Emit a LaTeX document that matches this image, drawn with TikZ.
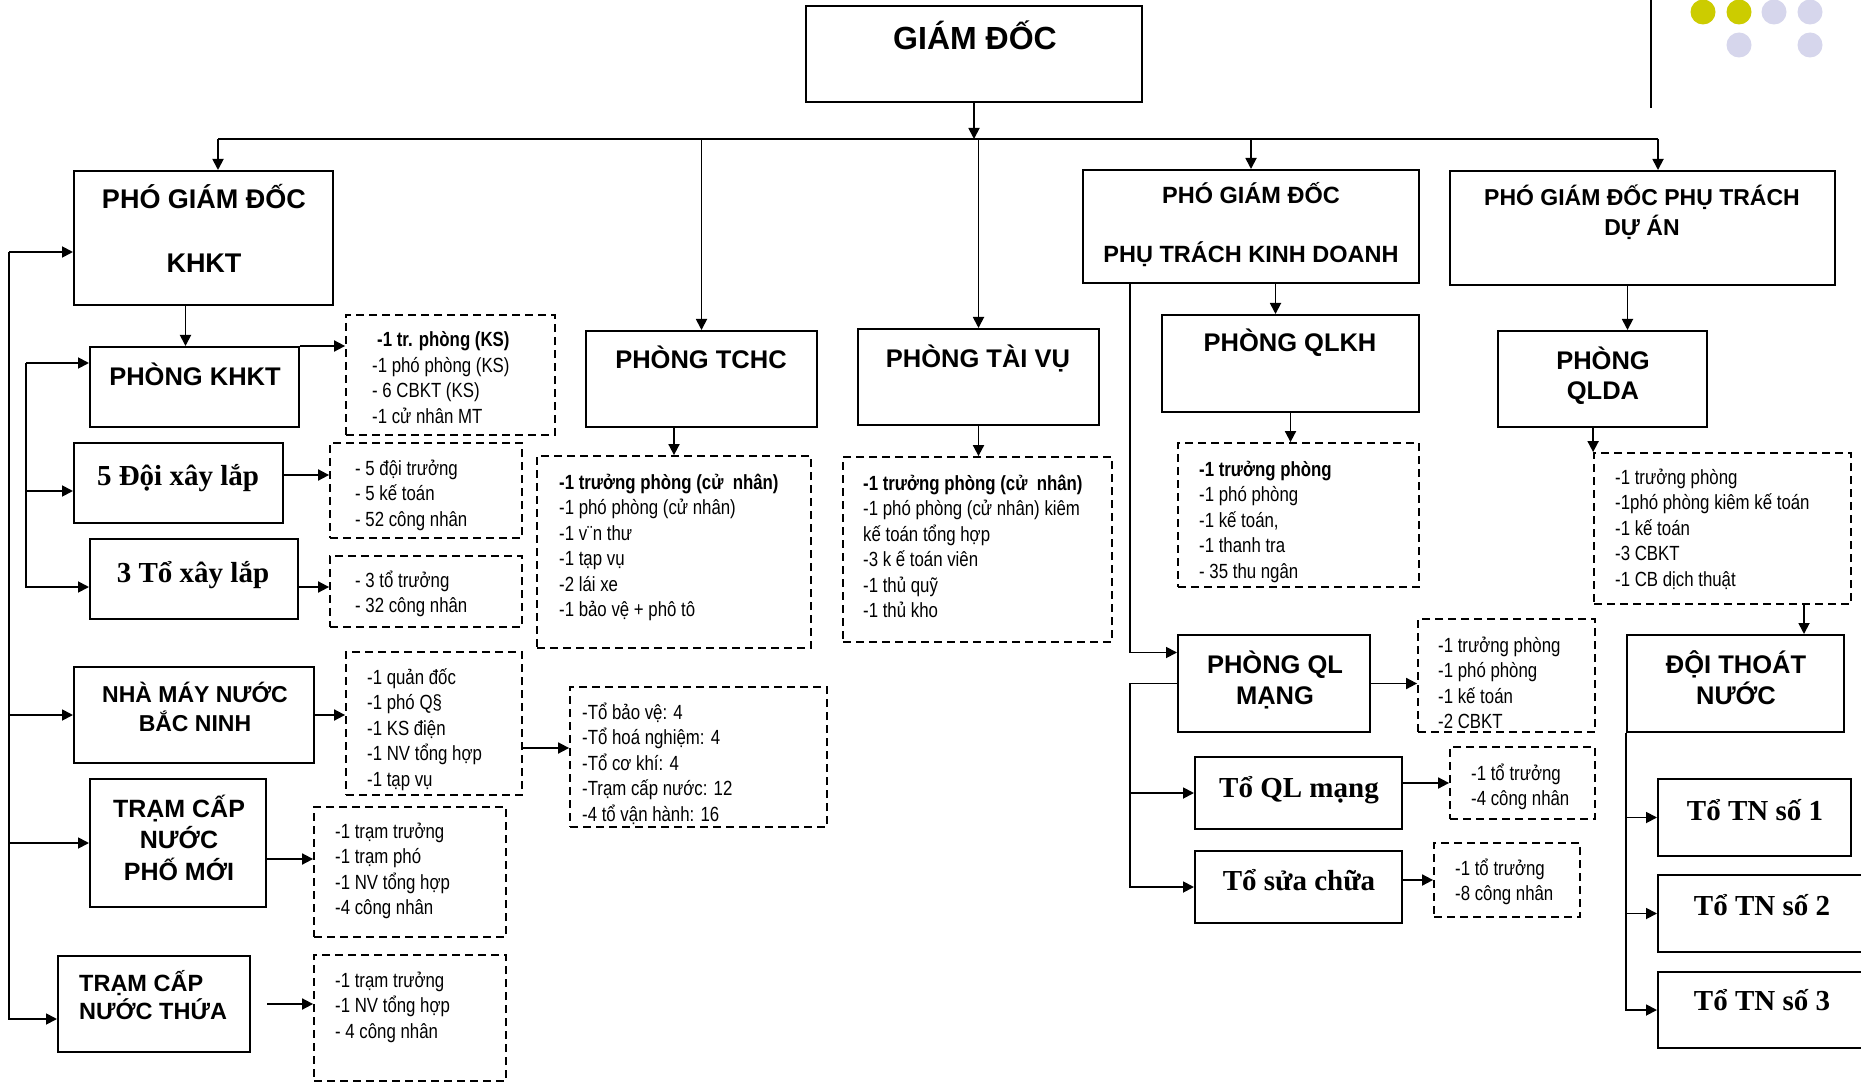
\documentclass[tikz,border=0pt]{standalone}
\usepackage{fontspec}
\setmainfont{Liberation Sans}
\newfontfamily\narrowfont{Liberation Sans}[FakeStretch=0.82]
\newfontfamily\timesfont{Liberation Serif}
\usetikzlibrary{arrows.meta,fit}

\definecolor{dotyellow}{RGB}{204,204,0}
\definecolor{dotblue}{RGB}{214,214,236}

\newcommand\rowsc[1]{\begin{tabular}[t]{@{}c@{}}#1\end{tabular}}
\newcommand\rowsl[1]{\begin{tabular}[t]{@{}l@{}}#1\end{tabular}}

\tikzset{
  box/.style={draw, line width=2pt, inner sep=0pt},
  dbox/.style={draw, line width=1.8pt, dash pattern=on 8pt off 5pt, inner sep=0pt},
  head/.style={inner sep=0pt, anchor=base, font=\fontsize{25.5}{31}\selectfont\bfseries},
  serif/.style={inner sep=0pt, anchor=base, font=\fontsize{29}{34}\selectfont\timesfont\bfseries},
  list/.style={inner sep=0pt, anchor=base west, font=\fontsize{20.5}{25.5}\selectfont\narrowfont},
  link/.style={line width=1.8pt},
  arr/.style={line width=1.8pt, -{Triangle[length=11pt,width=11pt]}}
}

\begin{document}
\begin{tikzpicture}[x=1pt, y=-1pt]
  \path[use as bounding box, fill=white] (0,0) rectangle (1861,1083);

  % corner decoration
  \draw[link] (1651,0) -- (1651,108);
  \fill[dotyellow] (1703,12) circle[radius=12.5pt];
  \fill[dotyellow] (1739,12) circle[radius=12.5pt];
  \fill[dotblue] (1774,12) circle[radius=12.5pt];
  \fill[dotblue] (1810,12) circle[radius=12.5pt];
  \fill[dotblue] (1739,45) circle[radius=12.5pt];
  \fill[dotblue] (1810,45) circle[radius=12.5pt];

  % solid boxes
  \node[box, fit={(806,6) (1142,102)}] (gd) {};
  \node[box, fit={(74,171) (333,305)}] (kt) {};
  \node[box, fit={(90,347) (299,427)}] (pkt) {};
  \node[box, fit={(74,443) (283,523)}] (d5) {};
  \node[box, fit={(90,539) (298,619)}] (t3) {};
  \node[box, fit={(74,667) (314,763)}] (nm) {};
  \node[box, fit={(90,779) (266,907)}] (pm) {};
  \node[box, fit={(58,956) (250,1052)}] (thua) {};
  \node[box, fit={(586,331) (817,427)}] (tchc) {};
  \node[box, fit={(858,329) (1099,425)}] (tv) {};
  \node[box, fit={(1083,170) (1419,283)}] (kd) {};
  \node[box, fit={(1162,315) (1419,412)}] (qlkh) {};
  \node[box, fit={(1450,171) (1835,285)}] (da) {};
  \node[box, fit={(1498,331) (1707,427)}] (qlda) {};
  \node[box, fit={(1178,635) (1370,732)}] (qlm) {};
  \node[box, fit={(1195,757) (1402,829)}] (tql) {};
  \node[box, fit={(1195,851) (1402,923)}] (sc) {};
  \node[box, fit={(1627,635) (1844,732)}] (doi) {};
  \node[box, fit={(1658,779) (1851,856)}] (tn1) {};
  \node[box, fit={(1658,875) (1875,952)}] (tn2) {};
  \node[box, fit={(1658,972) (1875,1048)}] (tn3) {};

  % dashed boxes
  \node[dbox, fit={(346,315) (555,435)}] (dkt) {};
  \node[dbox, fit={(330,443) (522,538)}] (dd5) {};
  \node[dbox, fit={(330,556) (522,627)}] (dt3) {};
  \node[dbox, fit={(346,652) (522,795)}] (dnm) {};
  \node[dbox, fit={(570,687) (827,827)}] (dto) {};
  \node[dbox, fit={(314,807) (506,937)}] (dpm) {};
  \node[dbox, fit={(314,955) (506,1081)}] (dth) {};
  \node[dbox, fit={(537,456) (811,648)}] (dtchc) {};
  \node[dbox, fit={(843,457) (1112,642)}] (dtv) {};
  \node[dbox, fit={(1178,443) (1419,587)}] (dqlkh) {};
  \node[dbox, fit={(1594,453) (1851,604)}] (dqlda) {};
  \node[dbox, fit={(1418,619) (1595,732)}] (dqlm) {};
  \node[dbox, fit={(1450,747) (1595,819)}] (dtql) {};
  \node[dbox, fit={(1434,843) (1580,917)}] (dsc) {};

  % titles
  \node[head, font=\fontsize{32}{38}\selectfont\bfseries] (gd-t) at (975,50) {GIÁM ĐỐC};
  \node[head, font=\fontsize{27}{33}\selectfont\bfseries] (kt-t) at (204,209) {\rowsc{PHÓ GIÁM ĐỐC\\[31pt]KHKT}};
  \node[head] (pkt-t) at (195,385) {PHÒNG KHKT};
  \node[head] (tchc-t) at (701,368) {PHÒNG TCHC};
  \node[head] (tv-t) at (978,367) {PHÒNG TÀI VỤ};
  \node[head, font=\fontsize{23.5}{28}\selectfont\bfseries] (kd-t) at (1251,204) {\rowsc{PHÓ GIÁM ĐỐC\\[29pt]PHỤ TRÁCH KINH DOANH}};
  \node[head] (qlkh-t) at (1290,352) {PHÒNG QLKH};
  \node[head, font=\fontsize{23}{29}\selectfont\bfseries] (da-t) at (1642,206) {\rowsc{PHÓ GIÁM ĐỐC PHỤ TRÁCH\\DỰ ÁN}};
  \node[head] (qlda-t) at (1603,369) {\rowsc{PHÒNG\\QLDA}};
  \node[head] (qlm-t) at (1275,673) {\rowsc{PHÒNG QL\\MẠNG}};
  \node[head] (doi-t) at (1736,673) {\rowsc{ĐỘI THOÁT\\NƯỚC}};
  \node[head, font=\fontsize{23}{28}\selectfont\bfseries] (nm-t) at (195,702) {\rowsc{NHÀ MÁY NƯỚC\\BẮC NINH}};
  \node[head, font=\fontsize{25}{31.5}\selectfont\bfseries] (pm-t) at (179,817) {\rowsc{TRẠM CẤP\\NƯỚC\\PHỐ MỚI}};
  \node[head, anchor=base west, font=\fontsize{23.5}{27}\selectfont\bfseries] (thua-t) at (79,991) {\rowsl{TRẠM CẤP\\NƯỚC THỨA}};

  \node[serif] (d5-t) at (178,485) {5 Đội xây lắp};
  \node[serif] (t3-t) at (193,582) {3 Tổ xây lắp};
  \node[serif] (tql-t) at (1299,797) {Tổ QL mạng};
  \node[serif] (sc-t) at (1299,890) {Tổ sửa chữa};
  \node[serif] (tn1-t) at (1755,820) {Tổ TN số 1};
  \node[serif] (tn2-t) at (1762,915) {Tổ TN số 2};
  \node[serif] (tn3-t) at (1762,1010) {Tổ TN số 3};

  % staff lists
  \node[list] (dkt-t) at (372,347) {\rowsl{\hspace{5pt}\textbf{-1 tr. phòng (KS)}\\-1 phó phòng (KS)\\- 6 CBKT (KS)\\-1 cử nhân MT}};
  \node[list] (dd5-t) at (355,475) {\rowsl{- 5 đội trưởng\\- 5 kế toán\\- 52 công nhân}};
  \node[list] (dt3-t) at (355,587) {\rowsl{- 3 tổ trưởng\\- 32 công nhân}};
  \node[list] (dnm-t) at (367,684) {\rowsl{-1 quản đốc\\-1 phó Q§\\-1 KS điện\\-1 NV tổng hợp\\-1 tạp vụ}};
  \node[list] (dto-t) at (582,719) {\rowsl{-Tổ bảo vệ: 4\\-Tổ hoá nghiệm: 4\\-Tổ cơ khí: 4\\-Trạm cấp nước: 12\\-4 tổ vận hành: 16}};
  \node[list] (dpm-t) at (335,838) {\rowsl{-1 trạm trưởng\\-1 trạm phó\\-1 NV tổng hợp\\-4 công nhân}};
  \node[list] (dth-t) at (335,987) {\rowsl{-1 trạm trưởng\\-1 NV tổng hợp\\- 4 công nhân}};
  \node[list] (dtchc-t) at (559,489) {\rowsl{\textbf{-1 trưởng phòng (cử\ \ nhân)}\\-1 phó phòng (cử nhân)\\-1 v¨n thư\\-1 tạp vụ\\-2 lái xe\\-1 bảo vệ + phô tô}};
  \node[list] (dtv-t) at (863,490) {\rowsl{\textbf{-1 trưởng phòng (cử\ \ nhân)}\\-1 phó phòng (cử nhân) kiêm\\kế toán tổng hợp\\-3 k ế toán viên\\-1 thủ quỹ\\-1 thủ kho}};
  \node[list] (dqlkh-t) at (1199,476) {\rowsl{\textbf{-1 trưởng phòng}\\-1 phó phòng\\-1 kế toán,\\-1 thanh tra\\- 35 thu ngân}};
  \node[list] (dqlda-t) at (1615,484) {\rowsl{-1 trưởng phòng\\-1phó phòng kiêm kế toán\\-1 kế toán\\-3 CBKT\\-1 CB dịch thuật}};
  \node[list] (dqlm-t) at (1438,652) {\rowsl{-1 trưởng phòng\\-1 phó phòng\\-1 kế toán\\-2 CBKT}};
  \node[list] (dtql-t) at (1471,780) {\rowsl{-1 tổ trưởng\\-4 công nhân}};
  \node[list] (dsc-t) at (1455,875) {\rowsl{-1 tổ trưởng\\-8 công nhân}};

  % top bus
  \coordinate (busL) at (218,139);
  \coordinate (busR) at (1658,139);
  \draw[link] (busL) -- (busR);
  \draw[arr] (gd.south) -- (gd.south |- busL);
  \draw[arr] (busL) -- (busL |- kt.north);
  \draw[arr] (tchc.north |- busL) -- (tchc.north);
  \draw[arr] (tv.north |- busL) -- (tv.north);
  \draw[arr] (kd.north |- busL) -- (kd.north);
  \draw[arr] (busR) -- (busR |- da.north);

  % left branch
  \coordinate (trunk) at (9,252);
  \coordinate (trunkb) at (26,363);
  \coordinate (thua-in) at ([yshift=-15pt]thua.west);
  \coordinate (d5-in) at ([yshift=-8pt]d5.west);
  \coordinate (t3-in) at ([yshift=-8pt]t3.west);
  \draw[arr] (trunk) -- (trunk -| kt.west);
  \draw[arr] (trunk) |- (thua-in);
  \draw[arr] (trunk |- nm.west) -- (nm.west);
  \draw[arr] (trunk |- pm.west) -- (pm.west);
  \draw[arr] (trunkb) -- (trunkb -| pkt.west);
  \draw[arr] (trunkb) |- (t3-in);
  \draw[arr] (trunkb |- d5-in) -- (d5-in);

  \coordinate (pkt-in) at ([xshift=-9pt]pkt.north);
  \coordinate (d5-out) at ([yshift=8pt]d5.east);
  \coordinate (t3-out) at ([yshift=-8pt]t3.east);
  \coordinate (dto-in) at ([yshift=9pt]dto.west);
  \coordinate (pm-out) at ([yshift=-16pt]pm.east);
  \coordinate (thua-out) at ([xshift=16pt]thua.east);
  \draw[arr] (pkt-in |- kt.south) -- (pkt-in);
  \draw[arr] (pkt.north east) -- (pkt.north east -| dkt.west);
  \draw[arr] (d5-out) -- (d5-out -| dd5.west);
  \draw[arr] (t3-out) -- (t3-out -| dt3.west);
  \draw[arr] (nm.east) -- (nm.east -| dnm.west);
  \draw[arr] (dto-in -| dnm.east) -- (dto-in);
  \draw[arr] (pm-out) -- (pm-out -| dpm.west);
  \draw[arr] (thua-out) -- (thua-out -| dth.west);

  % middle
  \draw[arr] (dtchc.north |- tchc.south) -- (dtchc.north);
  \draw[arr] (tv.south) -- (tv.south |- dtv.north);

  % business branch
  \coordinate (qlkh-in) at ([xshift=-15pt]qlkh.north);
  \coordinate (kd-down) at ([xshift=48pt]kd.south west);
  \coordinate (qlm-in) at ([yshift=31pt]qlm.west);
  \draw[arr] (qlkh-in |- kd.south) -- (qlkh-in);
  \draw[arr] (qlkh.south) -- (qlkh.south |- dqlkh.north);
  \draw[arr] (kd-down) |- (qlm-in);
  \draw[arr] (qlm.west) -| (kd-down |- sc.west) -- (sc.west);
  \draw[arr] (kd-down |- tql.west) -- (tql.west);
  \draw[arr] (qlm.east) -- (qlm.east -| dqlm.west);
  \draw[arr] (dtql.west -| tql.east) -- (dtql.west);
  \draw[arr] (dsc.west -| sc.east) -- (dsc.west);

  % project branch
  \coordinate (qlda-in) at ([xshift=25pt]qlda.north);
  \coordinate (doi-in) at ([xshift=-41pt]doi.north east);
  \draw[arr] (qlda-in |- da.south) -- (qlda-in);
  \draw[arr] (dqlda.north west |- qlda.south) -- (dqlda.north west);
  \draw[arr] (doi-in |- dqlda.south) -- (doi-in);
  \draw[arr] (doi.south west) |- (tn3.west);
  \draw[arr] (doi.south west |- tn1.west) -- (tn1.west);
  \draw[arr] (doi.south west |- tn2.west) -- (tn2.west);
\end{tikzpicture}
\end{document}
